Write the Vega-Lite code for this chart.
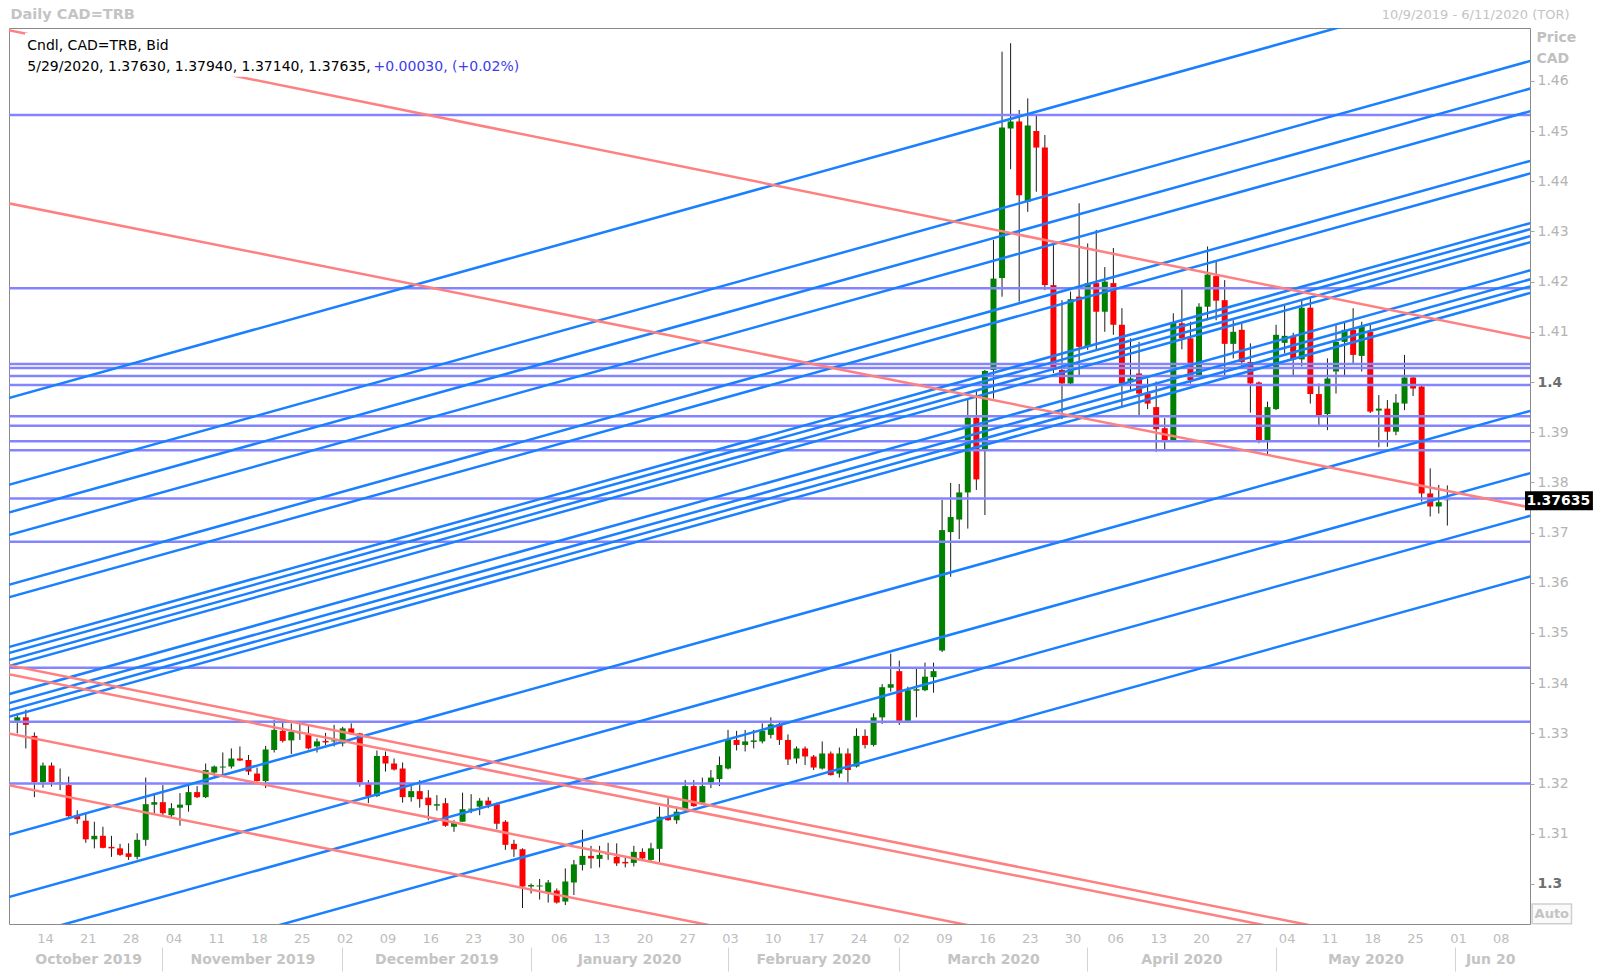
{
"$schema": "https://vega.github.io/schema/vega-lite/v6.json",
"width": 1521, "height": 896,
"autosize": "none",
"padding": {"left": 9, "top": 28, "right": 70, "bottom": 48},
"background": "white",
"config": {"view": {"stroke": "#8a8a8a", "strokeWidth": 1}, "font": "DejaVu Sans"},
"datasets": {
"candles": [
{"d":"2019-10-09","i":0,"o":1.3325,"h":1.334,"l":1.33,"c":1.3332},
{"d":"2019-10-10","i":1,"o":1.3332,"h":1.3347,"l":1.327,"c":1.3317},
{"d":"2019-10-11","i":2,"o":1.3295,"h":1.3302,"l":1.3173,"c":1.3203},
{"d":"2019-10-14","i":3,"o":1.3203,"h":1.3242,"l":1.3192,"c":1.3236},
{"d":"2019-10-15","i":4,"o":1.3236,"h":1.3242,"l":1.3194,"c":1.3203},
{"d":"2019-10-16","i":5,"o":1.3199,"h":1.323,"l":1.3187,"c":1.3202},
{"d":"2019-10-17","i":6,"o":1.3197,"h":1.3214,"l":1.3134,"c":1.3135},
{"d":"2019-10-18","i":7,"o":1.3137,"h":1.3147,"l":1.312,"c":1.3129},
{"d":"2019-10-21","i":8,"o":1.3126,"h":1.3141,"l":1.3082,"c":1.3089},
{"d":"2019-10-22","i":9,"o":1.3089,"h":1.3124,"l":1.3071,"c":1.3096},
{"d":"2019-10-23","i":10,"o":1.3096,"h":1.3114,"l":1.3071,"c":1.3072},
{"d":"2019-10-24","i":11,"o":1.3074,"h":1.3096,"l":1.3054,"c":1.3071},
{"d":"2019-10-25","i":12,"o":1.3071,"h":1.308,"l":1.3056,"c":1.3058},
{"d":"2019-10-28","i":13,"o":1.3061,"h":1.3081,"l":1.3048,"c":1.3054},
{"d":"2019-10-29","i":14,"o":1.3054,"h":1.3101,"l":1.3049,"c":1.3088},
{"d":"2019-10-30","i":15,"o":1.3088,"h":1.3212,"l":1.3076,"c":1.3159},
{"d":"2019-10-31","i":16,"o":1.3158,"h":1.3181,"l":1.3141,"c":1.3163},
{"d":"2019-11-01","i":17,"o":1.3163,"h":1.3197,"l":1.3135,"c":1.3141},
{"d":"2019-11-04","i":18,"o":1.3137,"h":1.3161,"l":1.3131,"c":1.3151},
{"d":"2019-11-05","i":19,"o":1.3152,"h":1.3181,"l":1.3116,"c":1.3158},
{"d":"2019-11-06","i":20,"o":1.3157,"h":1.3197,"l":1.3144,"c":1.3183},
{"d":"2019-11-07","i":21,"o":1.3183,"h":1.3195,"l":1.3171,"c":1.3173},
{"d":"2019-11-08","i":22,"o":1.3173,"h":1.324,"l":1.3171,"c":1.3227},
{"d":"2019-11-11","i":23,"o":1.3222,"h":1.3236,"l":1.3214,"c":1.3234},
{"d":"2019-11-12","i":24,"o":1.3232,"h":1.3262,"l":1.3214,"c":1.3234},
{"d":"2019-11-13","i":25,"o":1.3234,"h":1.327,"l":1.323,"c":1.325},
{"d":"2019-11-14","i":26,"o":1.325,"h":1.3274,"l":1.3245,"c":1.3246},
{"d":"2019-11-15","i":27,"o":1.3247,"h":1.3257,"l":1.3217,"c":1.3224},
{"d":"2019-11-18","i":28,"o":1.322,"h":1.3232,"l":1.3204,"c":1.3205},
{"d":"2019-11-19","i":29,"o":1.3205,"h":1.3275,"l":1.3191,"c":1.3268},
{"d":"2019-11-20","i":30,"o":1.3267,"h":1.3327,"l":1.3262,"c":1.3307},
{"d":"2019-11-21","i":31,"o":1.3305,"h":1.3325,"l":1.3282,"c":1.3285},
{"d":"2019-11-22","i":32,"o":1.3286,"h":1.332,"l":1.3259,"c":1.3303},
{"d":"2019-11-25","i":33,"o":1.33,"h":1.332,"l":1.3287,"c":1.3301},
{"d":"2019-11-26","i":34,"o":1.3297,"h":1.3317,"l":1.3268,"c":1.327},
{"d":"2019-11-27","i":35,"o":1.3274,"h":1.329,"l":1.3262,"c":1.3284},
{"d":"2019-11-28","i":36,"o":1.3285,"h":1.3301,"l":1.3277,"c":1.3282},
{"d":"2019-11-29","i":37,"o":1.3284,"h":1.3317,"l":1.3274,"c":1.3286},
{"d":"2019-12-02","i":38,"o":1.328,"h":1.3313,"l":1.3274,"c":1.331},
{"d":"2019-12-03","i":39,"o":1.331,"h":1.332,"l":1.3297,"c":1.3301},
{"d":"2019-12-04","i":40,"o":1.33,"h":1.3301,"l":1.3194,"c":1.3202},
{"d":"2019-12-05","i":41,"o":1.3199,"h":1.3207,"l":1.3161,"c":1.3175},
{"d":"2019-12-06","i":42,"o":1.3175,"h":1.3266,"l":1.3173,"c":1.3255},
{"d":"2019-12-09","i":43,"o":1.3255,"h":1.3264,"l":1.3224,"c":1.324},
{"d":"2019-12-10","i":44,"o":1.324,"h":1.325,"l":1.3226,"c":1.3228},
{"d":"2019-12-11","i":45,"o":1.323,"h":1.3242,"l":1.3162,"c":1.3173},
{"d":"2019-12-12","i":46,"o":1.3173,"h":1.3195,"l":1.3164,"c":1.3185},
{"d":"2019-12-13","i":47,"o":1.3185,"h":1.3207,"l":1.3152,"c":1.3169},
{"d":"2019-12-16","i":48,"o":1.3172,"h":1.3187,"l":1.3127,"c":1.3157},
{"d":"2019-12-17","i":49,"o":1.3156,"h":1.3177,"l":1.3146,"c":1.3159},
{"d":"2019-12-18","i":50,"o":1.3161,"h":1.3171,"l":1.3114,"c":1.3116},
{"d":"2019-12-19","i":51,"o":1.3114,"h":1.3127,"l":1.3104,"c":1.3122},
{"d":"2019-12-20","i":52,"o":1.3124,"h":1.3182,"l":1.3124,"c":1.3149},
{"d":"2019-12-23","i":53,"o":1.3148,"h":1.3179,"l":1.3141,"c":1.315},
{"d":"2019-12-24","i":54,"o":1.3154,"h":1.3171,"l":1.3137,"c":1.3166},
{"d":"2019-12-25","i":55,"o":1.3166,"h":1.3173,"l":1.3151,"c":1.3157},
{"d":"2019-12-26","i":56,"o":1.3159,"h":1.3162,"l":1.3109,"c":1.312},
{"d":"2019-12-27","i":57,"o":1.3124,"h":1.3127,"l":1.3068,"c":1.3078},
{"d":"2019-12-30","i":58,"o":1.308,"h":1.3088,"l":1.3054,"c":1.3069},
{"d":"2019-12-31","i":59,"o":1.3069,"h":1.3071,"l":1.2952,"c":1.2995},
{"d":"2020-01-01","i":60,"o":1.2995,"h":1.3001,"l":1.2981,"c":1.2998},
{"d":"2020-01-02","i":61,"o":1.2995,"h":1.301,"l":1.2969,"c":1.2997},
{"d":"2020-01-03","i":62,"o":1.2983,"h":1.3008,"l":1.2963,"c":1.3003},
{"d":"2020-01-06","i":63,"o":1.2987,"h":1.2991,"l":1.2961,"c":1.2963},
{"d":"2020-01-07","i":64,"o":1.2965,"h":1.3031,"l":1.2958,"c":1.3005},
{"d":"2020-01-08","i":65,"o":1.3003,"h":1.3048,"l":1.2978,"c":1.3039},
{"d":"2020-01-09","i":66,"o":1.3038,"h":1.3108,"l":1.3027,"c":1.3056},
{"d":"2020-01-10","i":67,"o":1.3056,"h":1.3076,"l":1.3031,"c":1.3051},
{"d":"2020-01-13","i":68,"o":1.305,"h":1.3076,"l":1.3033,"c":1.3058},
{"d":"2020-01-14","i":69,"o":1.3059,"h":1.3082,"l":1.3048,"c":1.3061},
{"d":"2020-01-15","i":70,"o":1.3054,"h":1.3081,"l":1.3036,"c":1.3041},
{"d":"2020-01-16","i":71,"o":1.3044,"h":1.3054,"l":1.3033,"c":1.3041},
{"d":"2020-01-17","i":72,"o":1.3042,"h":1.3076,"l":1.3035,"c":1.3064},
{"d":"2020-01-20","i":73,"o":1.3064,"h":1.3071,"l":1.3048,"c":1.3051},
{"d":"2020-01-21","i":74,"o":1.3048,"h":1.3082,"l":1.3046,"c":1.3071},
{"d":"2020-01-22","i":75,"o":1.307,"h":1.3154,"l":1.3044,"c":1.3134},
{"d":"2020-01-23","i":76,"o":1.3134,"h":1.3171,"l":1.3126,"c":1.3127},
{"d":"2020-01-24","i":77,"o":1.3127,"h":1.3154,"l":1.312,"c":1.3144},
{"d":"2020-01-27","i":78,"o":1.3147,"h":1.3207,"l":1.3144,"c":1.3195},
{"d":"2020-01-28","i":79,"o":1.3195,"h":1.3207,"l":1.3154,"c":1.3155},
{"d":"2020-01-29","i":80,"o":1.3162,"h":1.3212,"l":1.3159,"c":1.3195},
{"d":"2020-01-30","i":81,"o":1.3202,"h":1.3227,"l":1.3191,"c":1.3212},
{"d":"2020-01-31","i":82,"o":1.3209,"h":1.3254,"l":1.3195,"c":1.3237},
{"d":"2020-02-03","i":83,"o":1.323,"h":1.3307,"l":1.3228,"c":1.3287},
{"d":"2020-02-04","i":84,"o":1.3287,"h":1.3305,"l":1.3266,"c":1.3277},
{"d":"2020-02-05","i":85,"o":1.3277,"h":1.3307,"l":1.3264,"c":1.3284},
{"d":"2020-02-06","i":86,"o":1.3283,"h":1.3307,"l":1.327,"c":1.3286},
{"d":"2020-02-07","i":87,"o":1.3284,"h":1.332,"l":1.328,"c":1.3305},
{"d":"2020-02-10","i":88,"o":1.3297,"h":1.3332,"l":1.329,"c":1.3318},
{"d":"2020-02-11","i":89,"o":1.3318,"h":1.3322,"l":1.3277,"c":1.3287},
{"d":"2020-02-12","i":90,"o":1.3287,"h":1.3298,"l":1.3237,"c":1.3248},
{"d":"2020-02-13","i":91,"o":1.325,"h":1.3274,"l":1.324,"c":1.327},
{"d":"2020-02-14","i":92,"o":1.327,"h":1.3274,"l":1.3237,"c":1.3254},
{"d":"2020-02-17","i":93,"o":1.3254,"h":1.3257,"l":1.3227,"c":1.3232},
{"d":"2020-02-18","i":94,"o":1.323,"h":1.3284,"l":1.3228,"c":1.326},
{"d":"2020-02-19","i":95,"o":1.326,"h":1.3264,"l":1.3216,"c":1.3217},
{"d":"2020-02-20","i":96,"o":1.322,"h":1.3272,"l":1.3212,"c":1.326},
{"d":"2020-02-21","i":97,"o":1.326,"h":1.327,"l":1.3202,"c":1.3227},
{"d":"2020-02-24","i":98,"o":1.3234,"h":1.331,"l":1.3232,"c":1.3295},
{"d":"2020-02-25","i":99,"o":1.3295,"h":1.3308,"l":1.327,"c":1.3277},
{"d":"2020-02-26","i":100,"o":1.3277,"h":1.334,"l":1.3274,"c":1.3332},
{"d":"2020-02-27","i":101,"o":1.3332,"h":1.3398,"l":1.3319,"c":1.3392},
{"d":"2020-02-28","i":102,"o":1.3391,"h":1.3459,"l":1.3383,"c":1.3398},
{"d":"2020-03-02","i":103,"o":1.3424,"h":1.3445,"l":1.3317,"c":1.3325},
{"d":"2020-03-03","i":104,"o":1.3325,"h":1.3393,"l":1.3324,"c":1.3386},
{"d":"2020-03-04","i":105,"o":1.3385,"h":1.343,"l":1.3332,"c":1.3388},
{"d":"2020-03-05","i":106,"o":1.3386,"h":1.3441,"l":1.3384,"c":1.3413},
{"d":"2020-03-06","i":107,"o":1.3412,"h":1.3441,"l":1.3381,"c":1.3424},
{"d":"2020-03-09","i":108,"o":1.3465,"h":1.3765,"l":1.3462,"c":1.3705},
{"d":"2020-03-10","i":109,"o":1.3701,"h":1.3799,"l":1.3612,"c":1.3731},
{"d":"2020-03-11","i":110,"o":1.3726,"h":1.3797,"l":1.3687,"c":1.378},
{"d":"2020-03-12","i":111,"o":1.378,"h":1.3965,"l":1.3708,"c":1.3929},
{"d":"2020-03-13","i":112,"o":1.3929,"h":1.3984,"l":1.3785,"c":1.3806},
{"d":"2020-03-16","i":113,"o":1.3866,"h":1.4024,"l":1.3735,"c":1.4022},
{"d":"2020-03-17","i":114,"o":1.4024,"h":1.4283,"l":1.3967,"c":1.4206},
{"d":"2020-03-18","i":115,"o":1.4207,"h":1.4658,"l":1.417,"c":1.4507},
{"d":"2020-03-19","i":116,"o":1.4505,"h":1.4675,"l":1.4424,"c":1.4519},
{"d":"2020-03-20","i":117,"o":1.4519,"h":1.4542,"l":1.416,"c":1.4372},
{"d":"2020-03-23","i":118,"o":1.4359,"h":1.4565,"l":1.4339,"c":1.4511},
{"d":"2020-03-24","i":119,"o":1.45,"h":1.453,"l":1.4379,"c":1.4467},
{"d":"2020-03-25","i":120,"o":1.4467,"h":1.4492,"l":1.4183,"c":1.4193},
{"d":"2020-03-26","i":121,"o":1.4193,"h":1.4276,"l":1.4018,"c":1.4024},
{"d":"2020-03-27","i":122,"o":1.4024,"h":1.4163,"l":1.3926,"c":1.3997},
{"d":"2020-03-30","i":123,"o":1.3997,"h":1.418,"l":1.3995,"c":1.4165},
{"d":"2020-03-31","i":124,"o":1.417,"h":1.4356,"l":1.4014,"c":1.407},
{"d":"2020-04-01","i":125,"o":1.407,"h":1.4276,"l":1.4064,"c":1.4197},
{"d":"2020-04-02","i":126,"o":1.4197,"h":1.4303,"l":1.4064,"c":1.414},
{"d":"2020-04-03","i":127,"o":1.414,"h":1.4229,"l":1.41,"c":1.42},
{"d":"2020-04-06","i":128,"o":1.4197,"h":1.4267,"l":1.4094,"c":1.4114},
{"d":"2020-04-07","i":129,"o":1.4114,"h":1.4147,"l":1.3951,"c":1.3997},
{"d":"2020-04-08","i":130,"o":1.4001,"h":1.4087,"l":1.3984,"c":1.4007},
{"d":"2020-04-09","i":131,"o":1.4017,"h":1.408,"l":1.3934,"c":1.3977},
{"d":"2020-04-10","i":132,"o":1.3977,"h":1.4007,"l":1.3946,"c":1.3957},
{"d":"2020-04-13","i":133,"o":1.395,"h":1.4001,"l":1.3861,"c":1.3906},
{"d":"2020-04-14","i":134,"o":1.3908,"h":1.3928,"l":1.3865,"c":1.3884},
{"d":"2020-04-15","i":135,"o":1.3884,"h":1.4137,"l":1.3882,"c":1.4118},
{"d":"2020-04-16","i":136,"o":1.4117,"h":1.4185,"l":1.4065,"c":1.4087},
{"d":"2020-04-17","i":137,"o":1.4087,"h":1.412,"l":1.3997,"c":1.4004},
{"d":"2020-04-20","i":138,"o":1.4014,"h":1.4157,"l":1.4012,"c":1.415},
{"d":"2020-04-21","i":139,"o":1.415,"h":1.427,"l":1.4123,"c":1.4214},
{"d":"2020-04-22","i":140,"o":1.4211,"h":1.424,"l":1.4123,"c":1.4162},
{"d":"2020-04-23","i":141,"o":1.4163,"h":1.4203,"l":1.4012,"c":1.4076},
{"d":"2020-04-24","i":142,"o":1.4076,"h":1.4123,"l":1.4047,"c":1.41},
{"d":"2020-04-27","i":143,"o":1.4104,"h":1.4116,"l":1.4031,"c":1.404},
{"d":"2020-04-28","i":144,"o":1.404,"h":1.4077,"l":1.3939,"c":1.3997},
{"d":"2020-04-29","i":145,"o":1.3999,"h":1.4001,"l":1.3878,"c":1.3884},
{"d":"2020-04-30","i":146,"o":1.3884,"h":1.3961,"l":1.3855,"c":1.395},
{"d":"2020-05-01","i":147,"o":1.3946,"h":1.4114,"l":1.3944,"c":1.4094},
{"d":"2020-05-04","i":148,"o":1.4078,"h":1.4153,"l":1.4057,"c":1.4092},
{"d":"2020-05-05","i":149,"o":1.4092,"h":1.4098,"l":1.4014,"c":1.4045},
{"d":"2020-05-06","i":150,"o":1.4045,"h":1.4163,"l":1.4031,"c":1.4148},
{"d":"2020-05-07","i":151,"o":1.4148,"h":1.417,"l":1.3957,"c":1.3976},
{"d":"2020-05-08","i":152,"o":1.3976,"h":1.3997,"l":1.3914,"c":1.3934},
{"d":"2020-05-11","i":153,"o":1.3936,"h":1.4047,"l":1.3904,"c":1.4007},
{"d":"2020-05-12","i":154,"o":1.4021,"h":1.4114,"l":1.3977,"c":1.408},
{"d":"2020-05-13","i":155,"o":1.408,"h":1.412,"l":1.4014,"c":1.4104},
{"d":"2020-05-14","i":156,"o":1.4104,"h":1.4147,"l":1.4037,"c":1.4054},
{"d":"2020-05-15","i":157,"o":1.4052,"h":1.412,"l":1.4021,"c":1.411},
{"d":"2020-05-18","i":158,"o":1.41,"h":1.4114,"l":1.3938,"c":1.3941},
{"d":"2020-05-19","i":159,"o":1.3943,"h":1.3974,"l":1.387,"c":1.3947},
{"d":"2020-05-20","i":160,"o":1.3947,"h":1.3964,"l":1.3871,"c":1.3901},
{"d":"2020-05-21","i":161,"o":1.3901,"h":1.3976,"l":1.3894,"c":1.3959},
{"d":"2020-05-22","i":162,"o":1.3957,"h":1.4054,"l":1.3944,"c":1.4009},
{"d":"2020-05-25","i":163,"o":1.4009,"h":1.4011,"l":1.3972,"c":1.3987},
{"d":"2020-05-26","i":164,"o":1.3991,"h":1.3993,"l":1.3762,"c":1.3778},
{"d":"2020-05-27","i":165,"o":1.3778,"h":1.3828,"l":1.3732,"c":1.3752},
{"d":"2020-05-28","i":166,"o":1.3752,"h":1.3795,"l":1.3738,"c":1.37605},
{"d":"2020-05-29","i":167,"o":1.3763,"h":1.3794,"l":1.3714,"c":1.37635}
],
"hlines": [{"p":1.4532},{"p":1.4187},{"p":1.4036},{"p":1.4028},{"p":1.4012},{"p":1.3994},{"p":1.3932},{"p":1.3913},{"p":1.3882},{"p":1.3864},{"p":1.3768},{"p":1.3682},{"p":1.3431},{"p":1.3323},{"p":1.32}],
"blue": [
{"id":"B0","i":-1,"p":1.3968},{"id":"B0","i":177,"p":1.4814},
{"id":"B1","i":-1,"p":1.3795},{"id":"B1","i":177,"p":1.4641},
{"id":"B2","i":-1,"p":1.374},{"id":"B2","i":177,"p":1.4586},
{"id":"B3","i":-1,"p":1.3695},{"id":"B3","i":177,"p":1.4541},
{"id":"B4","i":-1,"p":1.3596},{"id":"B4","i":177,"p":1.4442},
{"id":"B5","i":-1,"p":1.3571},{"id":"B5","i":177,"p":1.4417},
{"id":"B6","i":-1,"p":1.3472},{"id":"B6","i":177,"p":1.4318},
{"id":"B7","i":-1,"p":1.346},{"id":"B7","i":177,"p":1.4306},
{"id":"B8","i":-1,"p":1.3446},{"id":"B8","i":177,"p":1.4292},
{"id":"B9","i":-1,"p":1.3434},{"id":"B9","i":177,"p":1.428},
{"id":"B10","i":-1,"p":1.3378},{"id":"B10","i":177,"p":1.4224},
{"id":"B11","i":-1,"p":1.336},{"id":"B11","i":177,"p":1.4206},
{"id":"B12","i":-1,"p":1.3346},{"id":"B12","i":177,"p":1.4192},
{"id":"B13","i":-1,"p":1.3333},{"id":"B13","i":177,"p":1.4179},
{"id":"B14","i":-1,"p":1.3098},{"id":"B14","i":177,"p":1.3944},
{"id":"B15","i":-1,"p":1.2974},{"id":"B15","i":177,"p":1.382},
{"id":"B16","i":-1,"p":1.2889},{"id":"B16","i":177,"p":1.3735},
{"id":"B17","i":-1,"p":1.2768},{"id":"B17","i":177,"p":1.3614}
],
"pink": [
{"id":"P1","i":-1,"p":1.4701},{"id":"P1","i":177,"p":1.4086},
{"id":"P2","i":-1,"p":1.4356},{"id":"P2","i":177,"p":1.3749},
{"id":"P3","i":-1,"p":1.3436},{"id":"P3","i":177,"p":1.2829},
{"id":"P4","i":-1,"p":1.3418},{"id":"P4","i":177,"p":1.2811},
{"id":"P5","i":-1,"p":1.33},{"id":"P5","i":177,"p":1.2693},
{"id":"P6","i":-1,"p":1.3197},{"id":"P6","i":177,"p":1.259}
],
"legend": [
{"t":"Cndl, CAD=TRB, Bid","i":1.17,"p":1.4669,"k":"k"},
{"t":"5/29/2020, 1.37630, 1.37940, 1.37140, 1.37635,","i":1.17,"p":1.4627,"k":"k"},
{"t":"+0.00030, (+0.02%)","i":41.6,"p":1.4627,"k":"b"}
],
"last": [{"c":1.37635,"t":"1.37635"}],
"one": [{"t":"Auto"}]
},
"resolve": {"scale": {"x": "shared", "y": "shared", "color": "independent"}, "axis": {"x": "independent", "y": "independent"}},
"layer": [
{
"data": {"name": "candles"},
"mark": {"type": "rule", "color": "#1a1a1a", "strokeWidth": 1},
"encoding": {
"x": {"field": "i", "type": "quantitative", "scale": {"domain": [-0.383, 176.07], "nice": false, "zero": false},
 "axis": {"orient": "bottom", "title": null, "values": [3,8,13,18,23,28,33,38,43,48,53,58,63,68,73,78,83,88,93,98,103,108,113,118,123,128,133,138,143,148,153,158,163,168,173],
 "labelExpr": "['14','21','28','04','11','18','25','02','09','16','23','30','06','13','20','27','03','10','17','24','02','09','16','23','30','06','13','20','27','04','11','18','25','01','08'][round((datum.value-3)/5)]",
 "ticks": false, "tickSize": 0, "domain": false, "grid": false, "labelPadding": 14.5, "labelBaseline": "middle", "labelFontSize": 13, "labelColor": "#bdbdbd", "labelOffset": 2, "labelOverlap": false, "labelFlush": false, "labelFont": "DejaVu Sans"}},
"y": {"field": "l", "type": "quantitative", "scale": {"domain": [1.29203, 1.47052], "nice": false, "zero": false},
 "axis": {"orient": "right", "values": [1.3,1.31,1.32,1.33,1.34,1.35,1.36,1.37,1.38,1.39,1.4,1.41,1.42,1.43,1.44,1.45,1.46],
 "labelExpr": "abs(datum.value-1.4)<0.0001 ? '1.4' : abs(datum.value-1.3)<0.0001 ? '1.3' : format(datum.value, '.2f')",
 "tickSize": 4, "tickColor": "#a8a8a8", "domain": false, "grid": false, "labelPadding": 3, "labelFontSize": 14, "labelFont": "DejaVu Sans",
 "labelColor": {"condition": {"test": "abs(datum.value-1.4)<0.0001 || abs(datum.value-1.3)<0.0001", "value": "#6e6e6e"}, "value": "#b4b4b4"},
 "labelFontWeight": {"condition": {"test": "abs(datum.value-1.4)<0.0001 || abs(datum.value-1.3)<0.0001", "value": "bold"}, "value": "normal"},
 "labelOverlap": false, "labelFlush": false,
 "title": ["Price", "CAD"], "titleAngle": 0, "titleAlign": "left", "titleBaseline": "middle", "titleX": 6, "titleY": 9.8, "titleLineHeight": 21, "titleFontSize": 14, "titleFontWeight": "bold", "titleColor": "#c0c0c0", "titleFont": "DejaVu Sans"}},
"y2": {"field": "h"}
}
},
{
"data": {"name": "candles"},
"mark": {"type": "bar", "size": 6},
"encoding": {
"x": {"field": "i", "type": "quantitative", "scale": {"domain": [-0.383, 176.07], "nice": false, "zero": false},
 "axis": {"orient": "bottom", "title": null, "values": [8.28, 27.45, 48.95, 71.45, 92.95, 113.95, 135.95, 157.45, 172.0],
 "labelExpr": "datum.value < 17 ? 'October 2019' : datum.value < 38 ? 'November 2019' : datum.value < 60 ? 'December 2019' : datum.value < 83 ? 'January 2020' : datum.value < 103 ? 'February 2020' : datum.value < 125 ? 'March 2020' : datum.value < 147 ? 'April 2020' : datum.value < 168 ? 'May 2020' : 'Jun 20'",
 "ticks": false, "tickSize": 0, "domain": false, "grid": false, "labelPadding": 35, "labelBaseline": "middle", "labelFontSize": 14, "labelFontWeight": "bold", "labelColor": "#c4c4c4", "labelOverlap": false, "labelFlush": false, "labelFont": "DejaVu Sans"}},
"y": {"field": "o", "type": "quantitative", "scale": {"domain": [1.29203, 1.47052], "nice": false, "zero": false}, "axis": null},
"y2": {"field": "c"},
"color": {"condition": {"test": "datum.c >= datum.o", "value": "#008000"}, "value": "#ff0000"}
}
},
{
"data": {"name": "hlines"},
"mark": {"type": "rule", "color": "#8484ff", "strokeWidth": 2.5},
"encoding": {
"y": {"field": "p", "type": "quantitative", "scale": {"domain": [1.29203, 1.47052], "nice": false, "zero": false}, "axis": null}
}
},
{
"data": {"name": "blue"},
"mark": {"type": "line", "color": "#1a80ff", "strokeWidth": 2.5, "clip": true},
"encoding": {
"x": {"field": "i", "type": "quantitative", "scale": {"domain": [-0.383, 176.07], "nice": false, "zero": false}, "axis": null},
"y": {"field": "p", "type": "quantitative", "scale": {"domain": [1.29203, 1.47052], "nice": false, "zero": false}, "axis": null},
"detail": {"field": "id", "type": "nominal"}
}
},
{
"data": {"name": "pink"},
"mark": {"type": "line", "color": "#ff8080", "strokeWidth": 2.5, "clip": true},
"encoding": {
"x": {"field": "i", "type": "quantitative", "scale": {"domain": [-0.383, 176.07], "nice": false, "zero": false}, "axis": null},
"y": {"field": "p", "type": "quantitative", "scale": {"domain": [1.29203, 1.47052], "nice": false, "zero": false}, "axis": null},
"detail": {"field": "id", "type": "nominal"}
}
},
{
"data": {"name": "one"},
"mark": {"type": "rect", "fill": "white"},
"encoding": {
"x": {"datum": 0.9, "type": "quantitative", "scale": {"domain": [-0.383, 176.07], "nice": false, "zero": false},
 "axis": {"orient": "bottom", "title": null, "values": [16.95, 37.95, 59.95, 82.95, 102.95, 124.95, 146.95, 167.95], "labels": false, "domain": false, "grid": false, "ticks": true, "tickSize": 24, "tickColor": "#d4d4d4", "tickWidth": 1, "offset": 23}},
"x2": {"datum": 59.2},
"y": {"datum": 1.4695, "type": "quantitative", "scale": {"domain": [1.29203, 1.47052], "nice": false, "zero": false}, "axis": null},
"y2": {"datum": 1.4608}
}
},
{
"data": {"name": "legend"},
"mark": {"type": "text", "align": "left", "baseline": "middle", "fontSize": 14, "font": "DejaVu Sans"},
"encoding": {
"x": {"field": "i", "type": "quantitative", "scale": {"domain": [-0.383, 176.07], "nice": false, "zero": false},
 "axis": {"orient": "top", "title": "10/9/2019 - 6/11/2020 (TOR)", "labels": false, "ticks": false, "domain": false, "grid": false, "titleX": 1560, "titleY": -13.7, "titleAlign": "right", "titleBaseline": "middle", "titleFontSize": 13, "titleFontWeight": "normal", "titleColor": "#c4c4c4", "titleFont": "DejaVu Sans"}},
"y": {"field": "p", "type": "quantitative", "scale": {"domain": [1.29203, 1.47052], "nice": false, "zero": false}, "axis": null},
"text": {"field": "t"},
"color": {"field": "k", "type": "nominal", "scale": {"domain": ["k", "b"], "range": ["#000000", "#3c3cf0"]}, "legend": null}
}
},
{
"data": {"name": "last"},
"mark": {"type": "rect", "fill": "#000000"},
"encoding": {
"x": {"datum": 176.07, "type": "quantitative", "scale": {"domain": [-0.383, 176.07], "nice": false, "zero": false},
 "axis": {"orient": "top", "title": "Daily CAD=TRB", "labels": false, "ticks": false, "domain": false, "grid": false, "titleX": 1, "titleY": -13.7, "titleAlign": "left", "titleBaseline": "middle", "titleFontSize": 14.5, "titleFontWeight": "bold", "titleColor": "#c4c4c4", "titleFont": "DejaVu Sans"}},
"x2": {"datum": 184.0},
"y": {"datum": 1.37825, "type": "quantitative", "scale": {"domain": [1.29203, 1.47052], "nice": false, "zero": false}, "axis": null},
"y2": {"datum": 1.37445}
}
},
{
"data": {"name": "last"},
"mark": {"type": "text", "align": "left", "baseline": "middle", "fontSize": 14, "fontWeight": "bold", "font": "DejaVu Sans", "color": "white"},
"encoding": {
"x": {"datum": 176.25, "type": "quantitative", "scale": {"domain": [-0.383, 176.07], "nice": false, "zero": false}, "axis": null},
"y": {"field": "c", "type": "quantitative", "scale": {"domain": [1.29203, 1.47052], "nice": false, "zero": false}, "axis": null},
"text": {"field": "t"}
}
},
{
"data": {"name": "one"},
"mark": {"type": "rect", "fill": "#fafafa", "stroke": "#cfcfcf", "strokeWidth": 1.5},
"encoding": {
"x": {"datum": 176.9, "type": "quantitative", "scale": {"domain": [-0.383, 176.07], "nice": false, "zero": false}, "axis": null},
"x2": {"datum": 181.5},
"y": {"datum": 1.2960, "type": "quantitative", "scale": {"domain": [1.29203, 1.47052], "nice": false, "zero": false}, "axis": null},
"y2": {"datum": 1.2921}
}
},
{
"data": {"name": "one"},
"mark": {"type": "text", "align": "center", "baseline": "middle", "fontSize": 13, "fontWeight": "bold", "font": "DejaVu Sans", "color": "#c4c4c4"},
"encoding": {
"x": {"datum": 179.2, "type": "quantitative", "scale": {"domain": [-0.383, 176.07], "nice": false, "zero": false}, "axis": null},
"y": {"datum": 1.29405, "type": "quantitative", "scale": {"domain": [1.29203, 1.47052], "nice": false, "zero": false}, "axis": null},
"text": {"field": "t"}
}
}
]
}
